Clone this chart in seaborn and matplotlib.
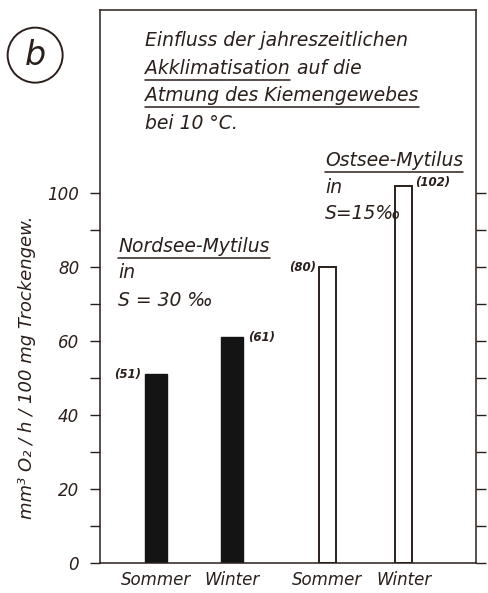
import numpy as np
import pandas as pd
import matplotlib
matplotlib.use("Agg")
import matplotlib.pyplot as plt
from matplotlib.lines import Line2D
import seaborn as sns

# data
seasons = ["Sommer", "Winter"]
nordsee_values = [51, 61]
ostsee_values = [80, 102]
nordsee_labels = ["(51)", "(61)"]
ostsee_labels = ["(80)", "(102)"]
yticks_major = [0, 20, 40, 60, 80, 100]
yticks_minor = [10, 30, 50, 70, 90]

INK = "#2a1f1b"
FONT = "DejaVu Sans"

sns.set_style("ticks")
plt.rcParams["font.family"] = [FONT]
plt.rcParams["font.style"] = "italic"

# layout: second group is shifted right to leave a gap
group_offset = 2.25
df_n = pd.DataFrame({"season": seasons, "value": nordsee_values})
df_n["pos"] = np.arange(len(seasons)) * 1.0
df_o = pd.DataFrame({"season": seasons, "value": ostsee_values})
df_o["pos"] = np.arange(len(seasons)) + group_offset

fig = plt.figure(figsize=(4.88, 5.93), dpi=100)
ax = fig.add_axes([0.205, 0.0506, 0.77, 0.932])

sns.barplot(data=df_n, x="pos", y="value", native_scale=True, width=0.29,
            color="#141414", edgecolor="#141414", linewidth=1, saturation=1, ax=ax)
sns.barplot(data=df_o, x="pos", y="value", native_scale=True, width=0.22,
            color="white", edgecolor=INK, linewidth=1.4, saturation=1, ax=ax)

ax.set_xlim(-0.74, 4.2)
ax.set_ylim(0, 149.5)
ax.set_xlabel("")
ax.set_ylabel("")

ax.set_xticks(list(df_n["pos"]) + list(df_o["pos"]))
ax.set_xticklabels(seasons + seasons, fontsize=12, color=INK, style="italic")
ax.tick_params(axis="x", length=0, pad=6)

ax.set_yticks(yticks_major)
ax.set_yticks(yticks_minor, minor=True)
ax.set_yticklabels([str(v) for v in yticks_major], fontsize=12, color=INK, style="italic")
ax.tick_params(axis="y", which="both", direction="out", left=True, right=True,
               length=7, width=1, color=INK, pad=8)

for s in ax.spines.values():
    s.set_visible(True)
    s.set_color(INK)
    s.set_linewidth(1.1)

# value labels next to bar tops
lab_kw = dict(va="center", fontsize=8.5, color=INK, weight="bold")
for i, (v, lab) in enumerate(zip(nordsee_values, nordsee_labels)):
    x = df_n["pos"][i]
    if i == 0:
        ax.text(x - 0.2, v, lab, ha="right", **lab_kw)
    else:
        ax.text(x + 0.2, v, lab, ha="left", **lab_kw)
for i, (v, lab) in enumerate(zip(ostsee_values, ostsee_labels)):
    x = df_o["pos"][i]
    if i == 0:
        ax.text(x - 0.15, v, lab, ha="right", **lab_kw)
    else:
        ax.text(x + 0.15, v + 1, lab, ha="left", **lab_kw)

txt_kw = dict(fontsize=13.5, color=INK, style="italic", va="baseline")
underlined = []

# title block inside the frame
fig.text(0.298, 0.923, "Einfluss der jahreszeitlichen", **txt_kw)
akk = fig.text(0.298, 0.876, "Akklimatisation", **txt_kw)
underlined.append(akk)
underlined.append(fig.text(0.298, 0.829, "Atmung des Kiemengewebes", **txt_kw))
fig.text(0.298, 0.782, "bei 10 °C.", **txt_kw)

# group annotations
underlined.append(ax.text(-0.5, 84, "Nordsee-Mytilus", **txt_kw))
ax.text(-0.5, 77, "in", **txt_kw)
ax.text(-0.5, 69.5, "S = 30 ‰", **txt_kw)

underlined.append(ax.text(2.22, 107.5, "Ostsee-Mytilus", **txt_kw))
ax.text(2.22, 100, "in", **txt_kw)
ax.text(2.22, 93, "S=15‰", **txt_kw)

# panel letter in a circle
fig.text(0.072, 0.907, "b", fontsize=24, color=INK, style="italic", ha="center", va="center",
         bbox=dict(boxstyle="circle,pad=0.33", fc="none", ec=INK, lw=1.4))

# y axis label
fig.text(0.056, 0.381, "mm³ O₂ / h / 100 mg Trockengew.", rotation=90, ha="center", va="center",
         fontsize=13, color=INK, style="italic")

# place "auf die" after the underlined word, then draw underlines
fig.canvas.draw()
r = fig.canvas.get_renderer()
bb = akk.get_window_extent(renderer=r)
fig.text(bb.x1 / fig.bbox.width + 0.015, 0.876, "auf die", **txt_kw)

for t in underlined:
    bb = t.get_window_extent(renderer=r)
    y = bb.y0 - 2
    fig.add_artist(Line2D([bb.x0 / fig.bbox.width, bb.x1 / fig.bbox.width],
                          [y / fig.bbox.height, y / fig.bbox.height],
                          color=INK, lw=1.1, transform=fig.transFigure))

fig.savefig("out.png", dpi=100)
